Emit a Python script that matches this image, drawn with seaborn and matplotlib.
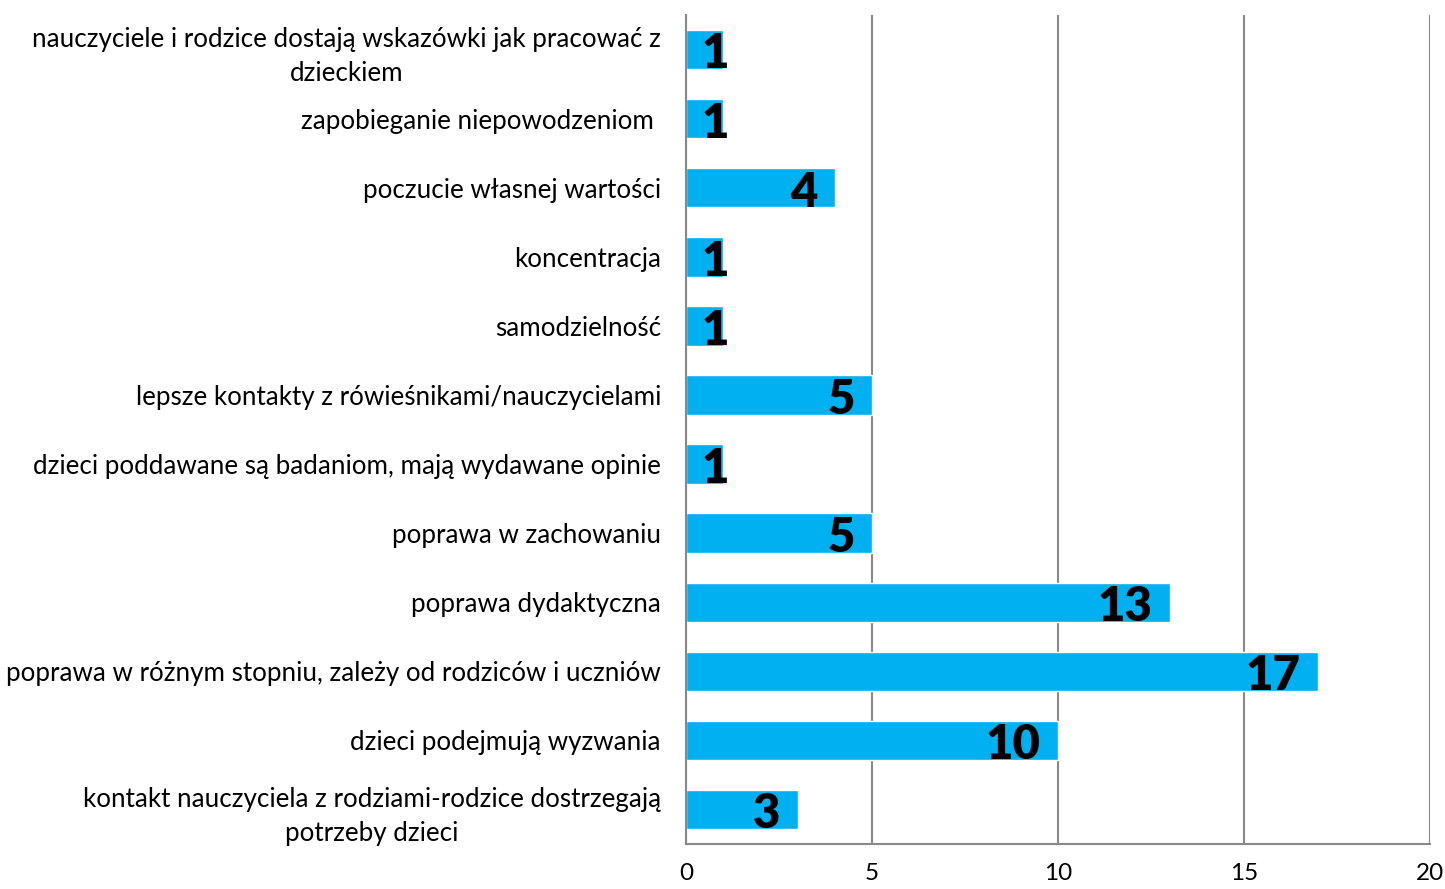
import matplotlib
matplotlib.use("Agg")
import matplotlib.pyplot as plt
import seaborn as sns
import pandas as pd

# data (top to bottom)
categories = [
    "nauczyciele i rodzice dostają wskazówki jak pracować z\ndzieckiem",
    "zapobieganie niepowodzeniom ",
    "poczucie własnej wartości",
    "koncentracja",
    "samodzielność",
    "lepsze kontakty z rówieśnikami/nauczycielami",
    "dzieci poddawane są badaniom, mają wydawane opinie",
    "poprawa w zachowaniu",
    "poprawa dydaktyczna",
    "poprawa w różnym stopniu, zależy od rodziców i uczniów",
    "dzieci podejmują wyzwania",
    "kontakt nauczyciela z rodziami-rodzice dostrzegają\npotrzeby dzieci",
]
values = [1, 1, 4, 1, 1, 5, 1, 5, 13, 17, 10, 3]
x_ticks = [0, 5, 10, 15, 20]

df = pd.DataFrame({"kategoria": categories, "liczba": values})

sns.set_style("white")
plt.rcParams["font.family"] = ["Lato", "DejaVu Sans"]

fig = plt.figure(figsize=(14.45, 8.89), dpi=100)
ax = fig.add_axes([0.4747, 0.0506, 0.5149, 0.9324])

sns.barplot(data=df, x="liczba", y="kategoria", orient="h", color="#00B0F0",
            saturation=1, width=0.57, ax=ax, zorder=3)

ax.set_xlim(0, 20)
ax.set_ylim(len(categories) - 0.5, -0.5)
ax.set_xticks(x_ticks)
ax.set_xlabel("")
ax.set_ylabel("")

grid_col = "#898989"
ax.xaxis.grid(True, color=grid_col, linewidth=1.5, zorder=0)
ax.set_axisbelow(True)
for s in ["top", "right"]:
    ax.spines[s].set_visible(False)
for s in ["left", "bottom"]:
    ax.spines[s].set_color(grid_col)
    ax.spines[s].set_linewidth(1.5)
ax.spines["left"].set_zorder(4)

ax.tick_params(axis="x", length=0, pad=14, labelsize=17.5, colors="black")
ax.tick_params(axis="y", length=0, pad=18, labelsize=18.7, colors="black")
for lab in ax.get_yticklabels():
    lab.set_multialignment("center")
    lab.set_linespacing(1.45)

# value labels, inside end of each bar
for i, v in enumerate(values):
    xpos = max(v - 0.47, 1.15)
    ax.text(xpos, i + 0.07, str(v), ha="right", va="center",
            fontsize=34, fontweight="heavy", color="black", zorder=5)

plt.savefig("out.png", dpi=100)
